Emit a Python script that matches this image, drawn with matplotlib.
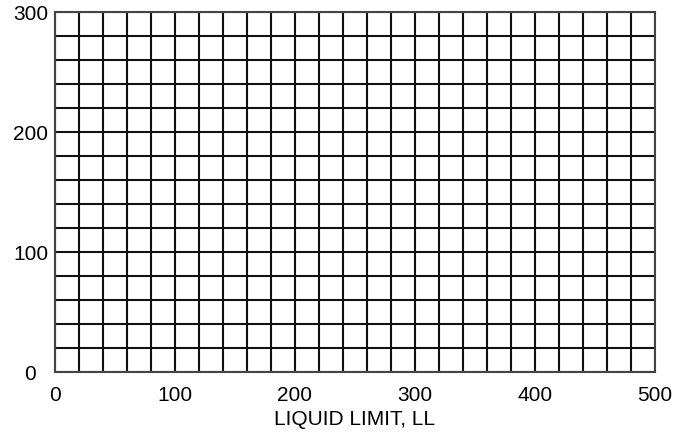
import matplotlib.pyplot as plt
from matplotlib.transforms import ScaledTranslation

# Axis ranges and ticks
x_ticks = [0, 100, 200, 300, 400, 500]
y_ticks = [0, 100, 200, 300]
x_grid = list(range(0, 501, 20))
y_grid = list(range(0, 301, 20))

plt.rcParams['font.family'] = ['Liberation Sans', 'DejaVu Sans']

fig = plt.figure(figsize=(6.75, 4.36), dpi=100)
ax = fig.add_axes([55 / 675, 1 - 372 / 436, 600 / 675, 360 / 436])

ax.set_xlim(0, 500)
ax.set_ylim(0, 300)

# grid lines
for x in x_grid:
    ax.axvline(x, color='#111111', linewidth=1.5, zorder=1)
for y in y_grid:
    ax.axhline(y, color='#111111', linewidth=1.5, zorder=1)

for s in ax.spines.values():
    s.set_color('#444444')
    s.set_linewidth(1.5)
    s.set_zorder(2)

ax.set_xticks(x_ticks)
ax.set_yticks(y_ticks)
ax.tick_params(axis='both', length=0, labelsize=15)
ax.tick_params(axis='x', pad=10)
ax.tick_params(axis='y', pad=5)

# the "0" on the y axis sits a bit further left in the original
lbl = ax.get_yticklabels()[0]
lbl.set_transform(lbl.get_transform() + ScaledTranslation(-0.12, 0, fig.dpi_scale_trans))

ax.set_xlabel("LIQUID LIMIT, LL", fontsize=15, labelpad=4)

fig.savefig("out.png", dpi=100)
